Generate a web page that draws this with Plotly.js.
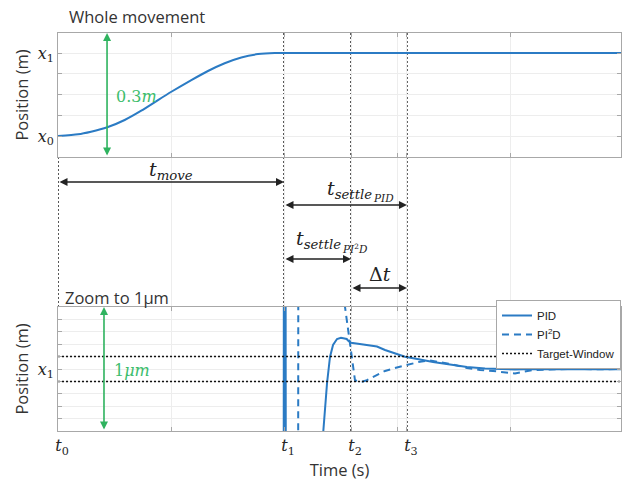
<!DOCTYPE html>
<html>
<head>
<meta charset="utf-8">
<script src="https://cdn.plot.ly/plotly-3.0.1.min.js"></script>
<style>html,body{margin:0;padding:0;background:#fff;}#chart{width:622px;height:482px;}</style>
</head>
<body>
<div id="chart"></div>
<script>
// ---- data (time in s, normalised so the grid step is 1) ----
const topTime = [0, 0.177, 0.292, 0.436, 0.590, 0.737, 0.885, 1.003, 1.180, 1.327, 1.475, 1.622, 1.770, 1.918, 2.0, 4.99];
const topPos  = [0, 0.0061, 0.0155, 0.0314, 0.0578, 0.0914, 0.130, 0.160, 0.202, 0.235, 0.263, 0.284, 0.296, 0.300, 0.300, 0.300];

const pidTime = [1.90, 1.996, 2.000, 2.006, 2.012, 2.018, 2.340, 2.348, 2.381, 2.407, 2.434, 2.469, 2.504, 2.531, 2.555, 2.566, 2.593, 2.655, 2.743, 2.823, 2.894, 2.982, 3.071, 3.204, 3.319, 3.469, 3.619, 3.779, 3.912, 4.044, 4.204, 4.354, 4.531, 4.708, 4.99];
const pidPos  = [-3, -3, 3, -3, 3, -3, -0.7, -0.5, -0.113, 0.097, 0.194, 0.242, 0.252, 0.246, 0.242, 0.230, 0.212, 0.203, 0.194, 0.181, 0.153, 0.125, 0.099, 0.077, 0.056, 0.036, 0.016, 0.004, 0.000, -0.004, 0.000, -0.002, 0.000, -0.002, -0.002];

const pi2dTime = [1.90, 2.124, 2.128, 2.530, 2.540, 2.566, 2.599, 2.615, 2.628, 2.655, 2.690, 2.726, 2.776, 2.832, 2.894, 2.982, 3.088, 3.204, 3.292, 3.381, 3.496, 3.619, 3.735, 3.850, 3.956, 4.044, 4.106, 4.204, 4.354, 4.531, 4.796, 4.99];
const pi2dPos  = [-3, -3, 3, 0.8, 0.5, 0.315, 0.089, -0.008, -0.089, -0.101, -0.102, -0.093, -0.070, -0.044, -0.016, 0.008, 0.032, 0.059, 0.069, 0.056, 0.036, 0.008, -0.008, -0.016, -0.028, -0.036, -0.024, -0.008, -0.004, 0.000, -0.002, 0.000];

const targetTime = [0, 4.99, null, 0, 4.99];
const targetPos  = [0.1, 0.1, null, -0.1, -0.1];

const t1 = 2.0, t2 = 2.593, t3 = 3.088;
const timeTickVals = [0, 1, t1, t2, 3, t3, 4];
const timeTickText = ['<i>t</i><sub>0</sub>', '', '<i>t</i><sub>1</sub>', '<i>t</i><sub>2</sub>', '', '<i>t</i><sub>3</sub>', ''];
const topTickVals = [0, 0.075, 0.15, 0.225, 0.3];
const topTickText = ['<i>x</i><sub>0</sub>', '', '', '', '<i>x</i><sub>1</sub>'];
const zoomTickVals = [-0.5, -0.4, -0.3, -0.2, -0.1, 0, 0.1, 0.2, 0.3, 0.4, 0.5];
const zoomTickText = ['', '', '', '', '', '<i>x</i><sub>1</sub>', '', '', '', '', ''];

const blue = '#2b7bc4';
const green = '#2fb35f';
const gridC = '#ededed';
const lineC = '#a8a8a8';
const serif = 'DejaVu Serif, serif';
const mathFont = {family: serif, size: 16, color: '#262626'};
const textFont = {family: 'Open Sans, sans-serif', size: 16.5, color: '#333'};

const traces = [
  {x: topTime, y: topPos, xaxis: 'x2', yaxis: 'y', mode: 'lines', line: {color: blue, width: 2, shape: 'spline', smoothing: 0.6}, showlegend: false, hoverinfo: 'skip'},
  {x: pidTime, y: pidPos, xaxis: 'x', yaxis: 'y3', mode: 'lines', name: 'PID', line: {color: blue, width: 2}},
  {x: pi2dTime, y: pi2dPos, xaxis: 'x', yaxis: 'y3', mode: 'lines', name: 'PI<sup>2</sup>D', line: {color: blue, width: 2, dash: '7px,5px'}},
  {x: targetTime, y: targetPos, xaxis: 'x', yaxis: 'y3', mode: 'lines', name: 'Target-Window', line: {color: '#111', width: 1.5, dash: '2px,2px'}}
];

const dTop = [1 - 157/482, 1 - 33/482];
const dMid = [1 - 307/482, 1 - 157/482];
const dBot = [1 - 431/482, 1 - 307/482];
const xRange = [0, 563/113];

const axCommon = {showline: true, linecolor: lineC, linewidth: 1, mirror: 'ticks', ticks: 'inside', ticklen: 4, tickcolor: lineC, gridcolor: gridC, zeroline: false, fixedrange: true};

function arrow(xr, yr, xa, ya, xb, yb, color, w) {
  return {xref: xr, yref: yr, axref: xr, ayref: yr, x: xb, y: yb, ax: xa, ay: ya, text: '', showarrow: true,
    arrowhead: 2, startarrowhead: 2, arrowside: 'end+start', arrowsize: 1, startarrowsize: 1, arrowwidth: w, arrowcolor: color, standoff: 0, startstandoff: 0};
}
function label(xr, yr, x, y, text, font, xanchor) {
  return {xref: xr, yref: yr, x: x, y: y, text: text, showarrow: false, font: font, xanchor: xanchor || 'center', yanchor: 'middle', borderpad: 0};
}

// middle strip levels (pixels below the top panel)
const lvMove = 25, lvMoveLbl = 14, lvPID = 48, lvPIDLbl = 33, lvPIDSub = 41, lvPI2D = 102, lvPI2DLbl = 83, lvPI2DSub = 92, lvDt = 131, lvDtLbl = 117;
const mathLbl = {family: serif, size: 19, color: '#222'};
const mathSub2 = {family: serif, size: 10.5, color: '#222'};
const greenFont = {family: serif, size: 16, color: '#3dbd6c'};

const annotations = [
  arrow('x2', 'y', 0.434, -0.0759, 0.434, 0.3723, green, 1.6),
  arrow('x', 'y3', 0.407, -0.5, 0.407, 0.5, green, 1.6),
  label('x2', 'y', 0.699, 0.141, '0.3<i>m</i>', greenFont),
  label('x', 'y3', 0.659, -0.016, '1<i>μm</i>', greenFont),
  arrow('x', 'y2', 0, lvMove, t1, lvMove, '#222', 1.6),
  arrow('x', 'y2', t1, lvPID, t3, lvPID, '#222', 1.6),
  arrow('x', 'y2', t1, lvPI2D, t2, lvPI2D, '#222', 1.6),
  arrow('x', 'y2', t2, lvDt, t3, lvDt, '#222', 1.6),
  label('x', 'y2', 1.0, lvMoveLbl, '<i>t</i><sub><i>move</i></sub>', mathLbl),
  label('x', 'y2', 2.372, lvPIDLbl, '<i>t</i><sub><i>settle</i></sub>', mathLbl, 'left'),
  label('x', 'y2', 2.775, lvPIDSub, '<i>PID</i>', mathSub2, 'left'),
  label('x', 'y2', 2.097, lvPI2DLbl, '<i>t</i><sub><i>settle</i></sub>', mathLbl, 'left'),
  label('x', 'y2', 2.505, lvPI2DSub, '<i>PI</i><sup>2</sup><i>D</i>', mathSub2, 'left'),
  label('x', 'y2', 2.85, lvDtLbl, 'Δ<i>t</i>', mathLbl),
  {xref: 'paper', yref: 'paper', x: (137-58)/563, y: 1 - 17/482, text: 'Whole movement', showarrow: false, font: textFont, xanchor: 'center', yanchor: 'middle'},
  {xref: 'paper', yref: 'paper', x: (117-58)/563, y: 1 - 297/482, text: 'Zoom to 1μm', showarrow: false, font: textFont, xanchor: 'center', yanchor: 'middle'}
];

const dotLine = {color: '#222', width: 1.5, dash: '2px,2px'};
const shapes = [t1, t2, t3].map(t => ({type: 'line', xref: 'x', yref: 'paper', x0: t, x1: t, y0: dBot[0], y1: dTop[1], line: dotLine, layer: 'below'}));
shapes.push({type: 'line', xref: 'x', yref: 'paper', x0: 0, x1: 0, y0: dMid[0], y1: dMid[1], line: dotLine, layer: 'below'});

const layout = {
  width: 622, height: 482,
  margin: {l: 58, r: 1, t: 0, b: 0},
  paper_bgcolor: '#fff', plot_bgcolor: 'rgba(0,0,0,0)',
  showlegend: true,
  legend: {x: 1, y: 1 - 300/482, xanchor: 'right', yanchor: 'top', bgcolor: '#fff', bordercolor: '#a8a8a8', borderwidth: 1,
    font: {family: 'Liberation Sans, Arial, sans-serif', size: 11.5, color: '#222'}, tracegroupgap: 0, itemwidth: 30},
  xaxis: Object.assign({}, axCommon, {domain: [0, 1], anchor: 'y3', range: xRange, tickvals: timeTickVals, ticktext: timeTickText, tickfont: mathFont, ticklabelshift: 4,
    title: {text: 'Time (s)', font: textFont, standoff: 4}}),
  xaxis2: Object.assign({}, axCommon, {domain: [0, 1], anchor: 'y', range: xRange, tickvals: timeTickVals, showticklabels: false}),
  yaxis: Object.assign({}, axCommon, {domain: dTop, anchor: 'x2', range: [-0.0759, 0.3723], tickvals: topTickVals, ticktext: topTickText, tickfont: mathFont,
    title: {text: 'Position (m)', font: textFont, standoff: 4}}),
  yaxis2: {domain: dMid, anchor: 'x', range: [150, 0], visible: false, fixedrange: true},
  yaxis3: Object.assign({}, axCommon, {domain: dBot, anchor: 'x', range: [-0.5, 0.5], tickvals: zoomTickVals, ticktext: zoomTickText, tickfont: mathFont,
    title: {text: 'Position (m)', font: textFont, standoff: 4}}),
  annotations: annotations,
  shapes: shapes
};

Plotly.newPlot('chart', traces, layout, {displayModeBar: false, staticPlot: true});
</script>
</body>
</html>
